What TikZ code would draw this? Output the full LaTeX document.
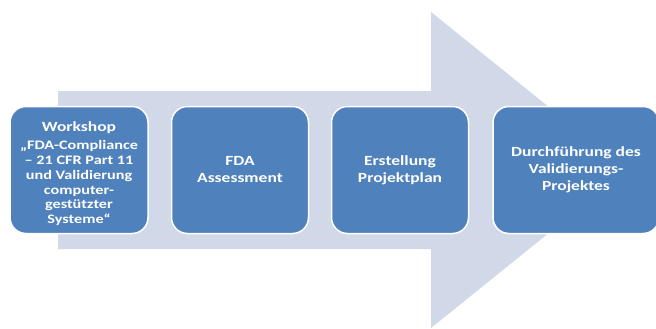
\documentclass[tikz,border=0pt]{standalone}
\usepackage{fontspec}
\setmainfont[FakeStretch=1.25]{Carlito}
\definecolor{arrowgray}{RGB}{209,216,232}
\definecolor{stageblue}{RGB}{79,129,189}
\tikzset{
  stage/.style={draw=white, line width=1.5pt, fill=stageblue, rounded corners=16pt,
    text=white, align=center, minimum height=127pt, inner sep=2pt,
    font=\bfseries\fontsize{14}{17}\selectfont},
  stagetext/.style={text=white, align=center, inner sep=0pt,
    font=\bfseries\fontsize{13}{14.8}\selectfont},
}
\begin{document}
\begin{tikzpicture}[x=1pt, y=-1pt]
\useasboundingbox (0,0) rectangle (656,329);
\fill[arrowgray] (58,91) -- (431,91) -- (431,12) -- (627,170) -- (431,328) -- (431,249) -- (58,249) -- cycle;
\node[stage, minimum width=138pt] (workshop) at (79,170) {};
\node[stagetext] (workshoptext) at (79,174) {\fontsize{14}{14.8}\selectfont Workshop\\[3pt]
  „FDA-Compliance\\ – 21 CFR Part 11\\ und Validierung\\ computer-\\ gestützter\\ Systeme“};
\node[stage, minimum width=137pt] (assessment) at (240,170) {FDA\\ Assessment};
\node[stage, minimum width=137pt] (projektplan) at (400,170) {Erstellung\\ Projektplan};
\node[stage, minimum width=166pt] (durchfuehrung) at (576,170) {Durchführung des\\ Validierungs-\\ Projektes};
\end{tikzpicture}
\end{document}
